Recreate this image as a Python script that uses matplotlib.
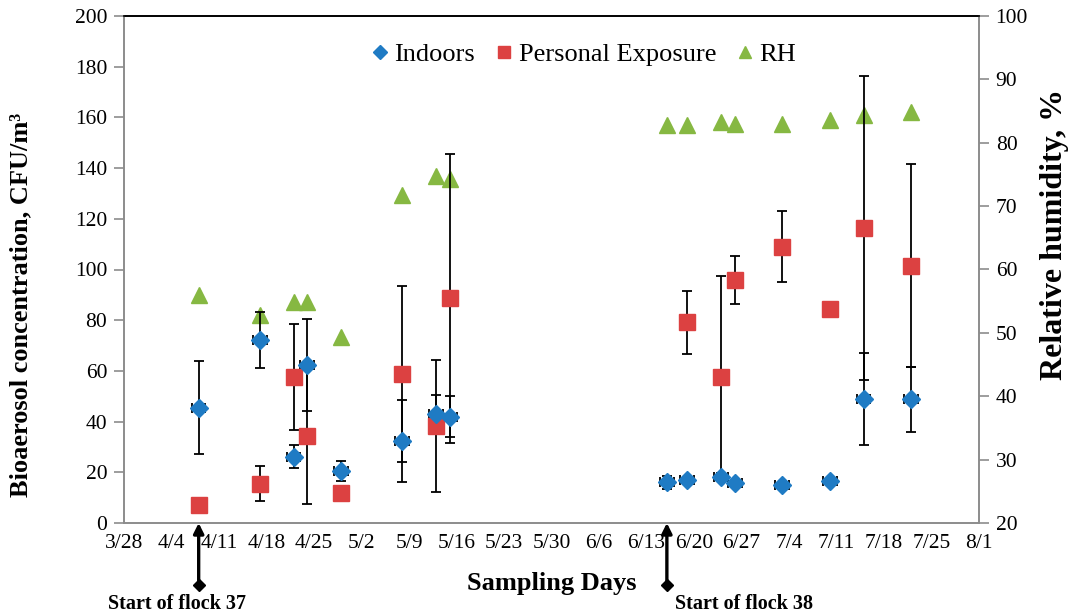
import datetime as dt
import matplotlib
matplotlib.use("Agg")
import matplotlib.pyplot as plt
import matplotlib.dates as mdates
from matplotlib.ticker import FuncFormatter

plt.rcParams['font.family'] = ['Liberation Serif', 'DejaVu Serif']

# sampling days (month/day)
days = ["4/8", "4/17", "4/22", "4/24", "4/29", "5/8", "5/13", "5/15",
        "6/16", "6/19", "6/24", "6/26", "7/3", "7/10", "7/15", "7/22"]

# indoor concentration, CFU/m3, and its error
indoors = [45.5, 72.2, 26.2, 62.3, 20.5, 32.3, 42.9, 41.9,
           16.0, 17.0, 18.3, 15.6, 15.0, 16.6, 48.9, 48.8]
indoors_err = [18.3, 11.2, 4.4, 18.0, 4.0, 16.1, 7.6, 8.0,
               2.6, 1.2, 1.6, 0.0, 0.0, 0.0, 18.2, 12.8]

# personal exposure (no sample on 6/16)
pe_days = ["4/8", "4/17", "4/22", "4/24", "4/29", "5/8", "5/13", "5/15",
           "6/19", "6/24", "6/26", "7/3", "7/10", "7/15", "7/22"]
personal = [7.1, 15.5, 57.6, 34.5, 12.0, 58.7, 38.4, 88.6,
            79.2, 57.5, 95.9, 109.0, 84.3, 116.3, 101.5]
personal_err = [0.0, 6.8, 21.0, 27.0, 2.5, 34.7, 26.0, 57.0,
                12.4, 40.0, 9.4, 14.0, 0.0, 60.0, 40.0]

# relative humidity, %
rh = [55.9, 52.8, 54.8, 54.8, 49.3, 71.8, 74.8, 74.3,
      82.8, 82.8, 83.3, 83.0, 83.0, 83.6, 84.4, 84.8]

flock_start = ["4/8", "6/16"]
flock_names = ["Start of flock 37", "Start of flock 38"]

YEAR = 2011


def to_date(s):
    m, d = s.split("/")
    return dt.datetime(YEAR, int(m), int(d))


x_in = [to_date(s) for s in days]
x_pe = [to_date(s) for s in pe_days]

blue = "#1f7bc4"
red = "#dc4141"
green = "#86b842"

fig = plt.figure(figsize=(10.73, 6.16), dpi=100)
ax = fig.add_axes([0.1156, 0.151, 0.7968, 0.823])
ax2 = ax.twinx()

# RH on the secondary axis, drawn behind the primary axis
h_rh, = ax2.plot(x_in, rh, linestyle="", marker="^", markersize=12,
                 color=green, label="RH")
ax.set_zorder(ax2.get_zorder() + 1)
ax.patch.set_visible(False)

xerr = dt.timedelta(days=1)
ax.errorbar(x_pe, personal, yerr=personal_err, xerr=xerr, fmt="none",
            ecolor="black", elinewidth=1.3, capsize=3.5, capthick=1.3)
ax.errorbar(x_in, indoors, yerr=indoors_err, xerr=xerr, fmt="none",
            ecolor="black", elinewidth=1.3, capsize=3.5, capthick=1.3)
h_pe, = ax.plot(x_pe, personal, linestyle="", marker="s", markersize=11,
                color=red, label="Personal Exposure", zorder=3)
h_in, = ax.plot(x_in, indoors, linestyle="", marker="D", markersize=9,
                color=blue, label="Indoors", zorder=4)

# axes limits and ticks
x0, x1 = to_date("3/28"), to_date("8/1")
ax.set_xlim(x0, x1)
ticks = [mdates.date2num(x0) + 7 * i for i in range(19)]
ax.set_xticks(ticks)
ax.xaxis.set_major_formatter(FuncFormatter(
    lambda v, p: f"{mdates.num2date(v).month}/{mdates.num2date(v).day}"))
ax.set_ylim(0, 200)
ax.set_yticks(range(0, 201, 20))
ax2.set_ylim(20, 100)
ax2.set_yticks(range(20, 101, 10))

gray = "#8c8c8c"
for a in (ax, ax2):
    a.tick_params(axis="y", labelsize=15.5, length=7, width=1.2, color=gray,
                  direction="out", pad=5)
    a.tick_params(axis="x", length=0, labelsize=15.5, pad=8)
    for side in ("left", "right", "bottom"):
        a.spines[side].set_color(gray)
        a.spines[side].set_linewidth(1.2)
    a.spines["top"].set_color("black")
    a.spines["top"].set_linewidth(1.2)

ax.set_xlabel("Sampling Days", fontsize=19, fontweight="bold")
ax.xaxis.label.set_va("center")
ax.xaxis.set_label_coords(0.5, -0.12)
ax.set_ylabel("Bioaerosol concentration, CFU/m³", fontsize=19,
              fontweight="bold")
ax.yaxis.label.set_va("center")
ax.yaxis.set_label_coords(-0.1205, 0.43)
ax2.set_ylabel("Relative humidity, %", fontsize=23, fontweight="bold")
ax2.yaxis.label.set_va("center")
ax2.yaxis.set_label_coords(1.088, 0.57)

# flock start arrows below the axis
offsets = [-13.4, 1.2]
for s, name, off in zip(flock_start, flock_names, offsets):
    xd = to_date(s)
    ax.annotate("", xy=(xd, 0), xytext=(xd, -24.5),
                arrowprops=dict(arrowstyle="-|>", color="black", lw=2.4,
                                mutation_scale=15, shrinkA=0, shrinkB=0),
                annotation_clip=False)
    ax.plot([xd], [-24.5], marker="D", markersize=6, color="black",
            clip_on=False)
    ax.text(xd + dt.timedelta(days=off), -32.0, name, fontsize=14.5,
            fontweight="bold", ha="left", va="center")

ax.legend(handles=[h_in, h_pe, h_rh], loc="upper center",
          bbox_to_anchor=(0.535, 0.995), ncol=3, frameon=False, fontsize=19,
          handletextpad=0.05, columnspacing=0.6, handlelength=1.0,
          markerscale=0.75)

fig.savefig("out.png", dpi=100)
